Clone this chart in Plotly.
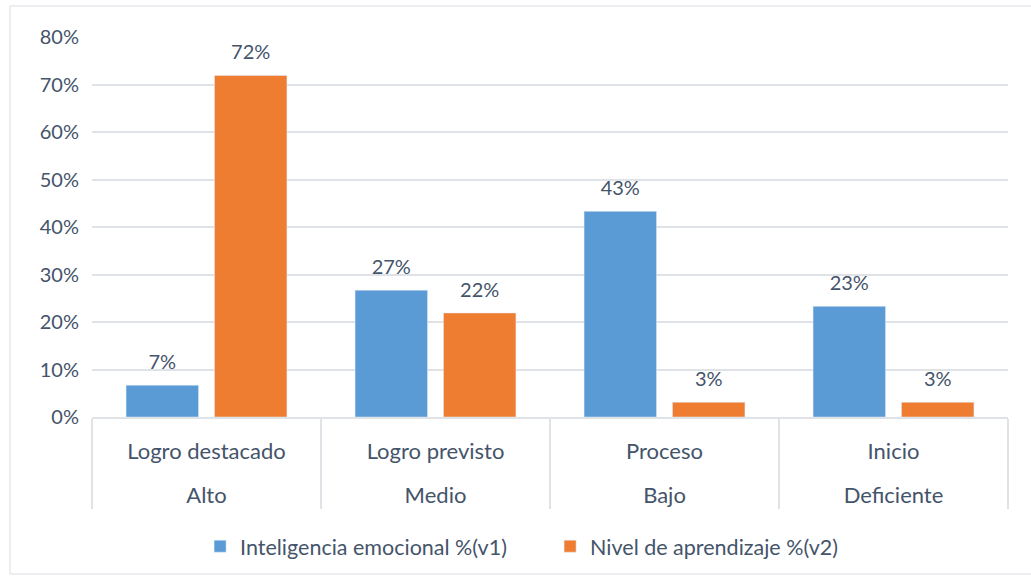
import plotly.graph_objects as go

niveles = ["Alto", "Medio", "Bajo", "Deficiente"]
logros = ["Logro destacado", "Logro previsto", "Proceso", "Inicio"]
v1 = [6.7, 26.7, 43.3, 23.3]   # Inteligencia emocional
v2 = [71.9, 21.9, 3.1, 3.1]    # Nivel de aprendizaje

txt = "#44546a"
fnt = "Lato"
fs = 20
gap = 0.228

# outer level gets an empty first line so it sits lower, like the original
outer = ["<br>" + n for n in niveles]

fig = go.Figure()
for vals, name, col in [(v1, "Inteligencia emocional %(v1)", "#5b9bd5"),
                        (v2, "Nivel de aprendizaje %(v2)", "#ee7d31")]:
    fig.add_trace(go.Bar(x=[outer, logros], y=vals, name=name, marker_color=col))

# data labels as text-only scatter, grouped the same way as the bars so they sit higher
for vals in (v1, v2):
    fig.add_trace(go.Scatter(x=[outer, logros], y=vals, mode="markers+text",
                             marker=dict(size=16, opacity=0),
                             texttemplate="%{y:.0f}%", textposition="top center",
                             textfont=dict(color=txt, size=fs, family=fnt),
                             showlegend=False, hoverinfo="skip", cliponaxis=False))

fig.update_layout(
    width=1031, height=581,
    margin=dict(l=92, r=23, t=37, b=164),
    barmode="group", bargap=gap, bargroupgap=0.18,
    scattermode="group", scattergap=gap,
    plot_bgcolor="white", paper_bgcolor="white",
    font=dict(family=fnt, size=fs, color=txt),
    legend=dict(orientation="h", x=0.118, xanchor="left", y=-0.34, yanchor="middle",
                font=dict(size=21.5), entrywidth=305, itemwidth=30),
    showlegend=True,
)
fig.update_yaxes(range=[0, 80], dtick=10, ticksuffix="%", showgrid=True,
                 gridcolor="#dfe3e8", gridwidth=1.5, zeroline=False,
                 showline=False, ticks="", ticklabelstandoff=12)
fig.update_xaxes(type="multicategory", showline=True, linecolor="#dfe3e8", linewidth=1.5,
                 showdividers=True, dividercolor="#dfe3e8", dividerwidth=1.5,
                 ticklabelstandoff=14, tickfont=dict(size=22, color=txt))

fig.add_shape(type="rect", xref="paper", yref="paper",
              x0=-82 / 916, x1=1015 / 916, y0=-157 / 380, y1=1 + 31 / 380,
              line=dict(color="#d9dde3", width=1))

fig.write_html("out.html", config={"displayModeBar": False},
               post_script="document.body.style.margin='0';")
